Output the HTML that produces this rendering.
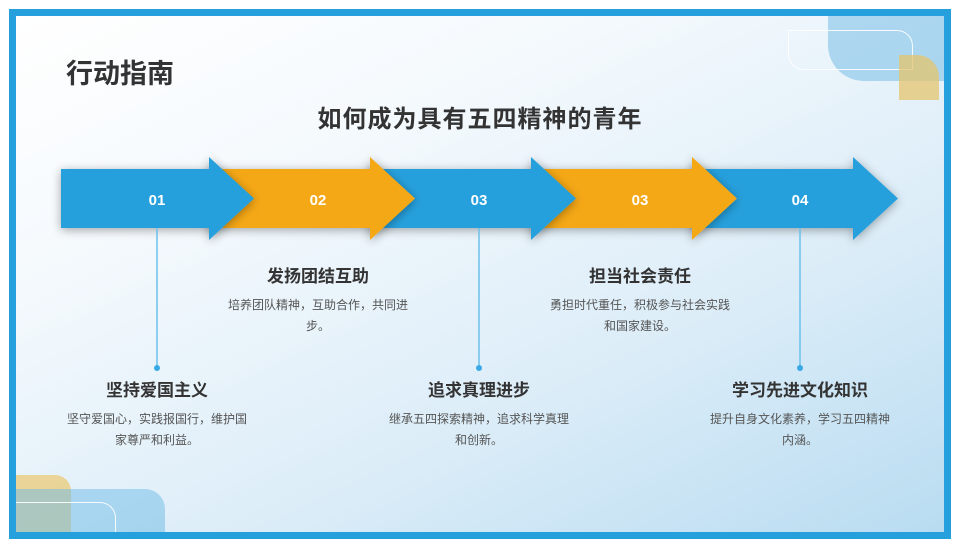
<!DOCTYPE html>
<html><head><meta charset="utf-8"><style>
*{margin:0;padding:0;box-sizing:border-box}
body{width:960px;height:548px;background:#fff;position:relative;overflow:hidden;font-family:"Liberation Sans","Noto Sans CJK SC",sans-serif}
.frame{position:absolute;left:9px;top:9px;width:942px;height:530px;border:7px solid #26a0dc;background:linear-gradient(155deg,#ffffff 0%,#f4f9fd 30%,#dcedf8 65%,#b9dcf1 100%);overflow:hidden}
.abs{position:absolute}
.t{position:absolute;text-align:center;color:#333}
.h{font-size:17px;font-weight:bold;color:#333}
.d{font-size:12px;color:#555;line-height:21px}
</style></head><body>
<div class="frame">
  <div class="abs" style="left:812px;top:-5px;width:130px;height:70px;background:rgba(120,190,230,0.55);border-radius:0 0 0 36px"></div>
  <div class="abs" style="left:772px;top:14px;width:125px;height:40px;border:1.5px solid rgba(255,255,255,0.9);border-radius:0 16px 0 16px"></div>
  <div class="abs" style="left:883px;top:39px;width:40px;height:45px;background:rgba(228,196,110,0.75);border-radius:0 22px 0 0"></div>
  <div class="abs" style="left:-5px;top:459px;width:60px;height:60px;background:rgba(235,200,110,0.7);border-radius:0 16px 0 0"></div>
  <div class="abs" style="left:-5px;top:473px;width:154px;height:60px;background:rgba(110,185,230,0.5);border-radius:0 20px 0 0"></div>
  <div class="abs" style="left:-5px;top:486px;width:105px;height:40px;border:1.5px solid rgba(255,255,255,0.9);border-left:none;border-bottom:none;border-radius:0 16px 0 0"></div>
</div>
<div class="abs" style="left:66px;top:52px;font-size:27px;font-weight:bold;color:#333;white-space:nowrap">行动指南</div>
<div class="abs" style="left:230px;top:99px;width:500px;text-align:center;font-size:24px;font-weight:bold;color:#333;letter-spacing:1px;white-space:nowrap">如何成为具有五四精神的青年</div>
<svg class="abs" style="left:0;top:0" width="960" height="548">
<defs><filter id="s" x="-20%" y="-30%" width="140%" height="160%"><feGaussianBlur in="SourceAlpha" stdDeviation="5"/><feOffset dx="0" dy="2"/><feComponentTransfer><feFuncA type="linear" slope="0.35"/></feComponentTransfer><feMerge><feMergeNode/><feMergeNode in="SourceGraphic"/></feMerge></filter></defs>
<g filter="url(#s)">
<polygon fill="#26a0dc" points="692,169 853,169 853,157 898,198.5 853,240 853,228 692,228"/>
</g><g filter="url(#s)">
<polygon fill="#f5a814" points="531,169 692,169 692,157 737,198.5 692,240 692,228 531,228"/>
</g><g filter="url(#s)">
<polygon fill="#26a0dc" points="370,169 531,169 531,157 576,198.5 531,240 531,228 370,228"/>
</g><g filter="url(#s)">
<polygon fill="#f5a814" points="209,169 370,169 370,157 415,198.5 370,240 370,228 209,228"/>
</g><g filter="url(#s)">
<polygon fill="#26a0dc" points="61,169 209,169 209,157 254,198.5 209,240 209,228 61,228"/>
</g>
<g fill="#fff" font-size="15" font-weight="bold" text-anchor="middle" font-family="Liberation Sans,sans-serif">
<text x="157" y="205">01</text><text x="318" y="205">02</text><text x="479" y="205">03</text><text x="640" y="205">03</text><text x="800" y="205">04</text>
</g>
<g stroke="#6cc0ec" stroke-width="1.5"><line x1="157" y1="228" x2="157" y2="368"/><line x1="479" y1="228" x2="479" y2="368"/><line x1="800" y1="228" x2="800" y2="368"/></g>
<g fill="#3aa8e4"><circle cx="157" cy="368" r="3"/><circle cx="479" cy="368" r="3"/><circle cx="800" cy="368" r="3"/></g>
</svg>
<div class="t" style="left:208px;top:262px;width:220px"><div class="h">发扬团结互助</div><div class="d" style="margin-top:8px">培养团队精神，互助合作，共同进<br>步。</div></div>
<div class="t" style="left:530px;top:262px;width:220px"><div class="h">担当社会责任</div><div class="d" style="margin-top:8px">勇担时代重任，积极参与社会实践<br>和国家建设。</div></div>
<div class="t" style="left:47px;top:376px;width:220px"><div class="h">坚持爱国主义</div><div class="d" style="margin-top:8px">坚守爱国心，实践报国行，维护国<br>家尊严和利益。</div></div>
<div class="t" style="left:369px;top:376px;width:220px"><div class="h">追求真理进步</div><div class="d" style="margin-top:8px">继承五四探索精神，追求科学真理<br>和创新。</div></div>
<div class="t" style="left:690px;top:376px;width:220px"><div class="h">学习先进文化知识</div><div class="d" style="margin-top:8px">提升自身文化素养，学习五四精神<br>内涵。</div></div>
</body></html>
